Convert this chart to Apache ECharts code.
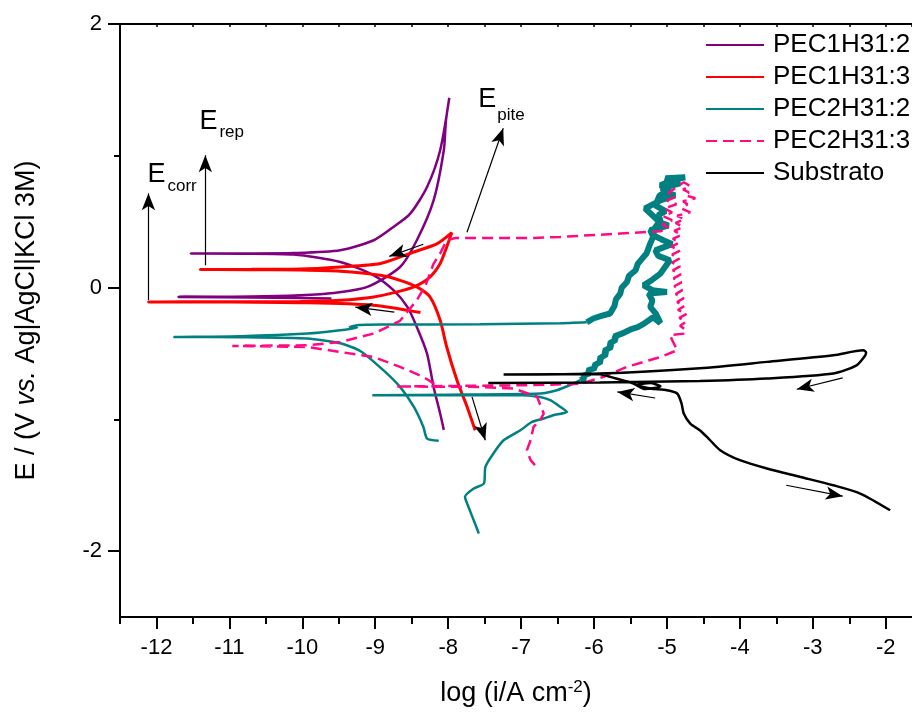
<!DOCTYPE html>
<html><head><meta charset="utf-8">
<script src="https://cdn.jsdelivr.net/npm/echarts@6/dist/echarts.min.js"></script>
<style>html,body{margin:0;padding:0;background:#fff}#c{width:912px;height:713px}</style>
</head><body><div id="c"></div>
<script>
// ---- tick values ----
const xMajorTicks = [-12,-11,-10,-9,-8,-7,-6,-5,-4,-3,-2];
const xMinorTicks = [-12.5,-11.5,-10.5,-9.5,-8.5,-7.5,-6.5,-5.5,-4.5,-3.5,-2.5];
const yMajorTicks = [-2,0,2];
const yMinorTicks = [-1,1];
const seriesNames = ['PEC1H31:2','PEC1H31:3','PEC2H31:2','PEC2H31:3','Substrato'];

// ---- data: [log i, E] ----
const pec1h31_2 = [[-8.06,-1.08],[-8.11,-0.956],[-8.20,-0.754],[-8.29,-0.501],[-8.43,-0.299],[-8.56,-0.147],[-8.75,-0.020],[-9.02,0.093],[-9.48,0.194],[-10.12,0.250],[-10.8,0.257],[-11.53,0.258],[-10.8,0.259],[-10.12,0.262],[-9.48,0.283],[-9.02,0.359],[-8.75,0.460],[-8.52,0.561],[-8.29,0.763],[-8.11,1.042],[-7.985,1.439],[-8.03,1.269],[-8.06,1.042],[-8.20,0.662],[-8.43,0.359],[-8.66,0.156],[-9.11,0.005],[-9.57,-0.041],[-10.03,-0.058],[-10.71,-0.068],[-11.70,-0.071],[-10.71,-0.075],[-10.03,-0.080],[-9.6,-0.083]];

const pec1h31_3 = [[-7.63,-1.083],[-7.74,-0.906],[-7.88,-0.703],[-8.02,-0.451],[-8.11,-0.248],[-8.25,-0.071],[-8.43,0.005],[-8.66,0.055],[-8.93,0.093],[-9.48,0.124],[-10.03,0.133],[-10.7,0.136],[-11.40,0.137],[-10.7,0.138],[-10.03,0.140],[-9.48,0.156],[-8.93,0.182],[-8.47,0.270],[-8.15,0.334],[-7.95,0.417],[-8.02,0.308],[-8.11,0.182],[-8.25,0.080],[-8.47,0.005],[-8.70,-0.033],[-9.02,-0.071],[-9.48,-0.096],[-10.03,-0.106],[-11.0,-0.108],[-12.11,-0.109],[-11.0,-0.110],[-10.03,-0.115],[-9.03,-0.134],[-8.38,-0.190]];

const pec2h31_2_cathodic = [[-7.58,-1.866],[-7.65,-1.766],[-7.74,-1.639],[-7.77,-1.589],[-7.65,-1.525],[-7.51,-1.487],[-7.49,-1.361],[-7.38,-1.259],[-7.24,-1.159],[-7.01,-1.083],[-6.85,-1.020],[-6.69,-0.994],[-6.56,-0.969],[-6.37,-0.944],[-6.46,-0.906],[-6.60,-0.855],[-6.74,-0.830],[-6.97,-0.817],[-7.97,-0.817],[-9.04,-0.817],[-7.97,-0.813],[-6.74,-0.804],[-6.51,-0.779],[-6.28,-0.728],[-6.19,-0.703]];

const pec2h31_2_pitting = [[-6.19,-0.703],[-6.12,-0.690],[-6.16,-0.672],[-6.06,-0.650],[-6.09,-0.630],[-5.98,-0.610],[-6.00,-0.590],[-5.90,-0.560],[-5.93,-0.540],[-5.83,-0.505],[-5.86,-0.480],[-5.76,-0.450],[-5.79,-0.425],[-5.70,-0.395],[-5.72,-0.370],[-5.62,-0.350],[-5.50,-0.318],[-5.40,-0.300],[-5.32,-0.276],[-5.19,-0.225],[-5.09,-0.270],[-5.15,-0.200],[-5.23,-0.147],[-5.20,-0.100],[-5.25,-0.046],[-5.00,-0.033],[-5.20,-0.020],[-5.32,0.017],[-5.20,0.060],[-5.09,0.106],[-4.96,0.207],[-5.12,0.240],[-5.16,0.282],[-4.93,0.330],[-5.05,0.359],[-5.20,0.400],[-5.23,0.435],[-4.98,0.470],[-5.10,0.496],[-5.20,0.549],[-5.30,0.600],[-5.22,0.624],[-5.09,0.662],[-4.89,0.700],[-5.00,0.720],[-5.07,0.753],[-4.82,0.790],[-4.95,0.805],[-5.02,0.829],[-4.75,0.837],[-4.90,0.820],[-5.09,0.776],[-4.96,0.740],[-5.10,0.700],[-5.16,0.624],[-5.02,0.580],[-5.12,0.549],[-5.09,0.511],[-5.17,0.450],[-5.19,0.384],[-5.24,0.320],[-5.28,0.258],[-5.34,0.220],[-5.40,0.180],[-5.43,0.131],[-5.52,0.090],[-5.55,0.040],[-5.62,0.000],[-5.64,-0.046],[-5.70,-0.090],[-5.72,-0.140],[-5.78,-0.197],[-5.90,-0.215],[-6.01,-0.235],[-6.10,-0.264]];

const pec2h31_2_reverse = [[-6.10,-0.264],[-6.46,-0.271],[-7.56,-0.279],[-8.93,-0.281],[-9.22,-0.285],[-9.35,-0.300],[-9.25,-0.305],[-9.48,-0.324],[-9.93,-0.349],[-10.85,-0.369],[-11.76,-0.375],[-10.85,-0.377],[-9.93,-0.387],[-9.48,-0.423],[-9.20,-0.483],[-8.89,-0.627],[-8.66,-0.754],[-8.47,-0.906],[-8.34,-1.058],[-8.29,-1.146],[-8.13,-1.162]];

const pec2h31_3 = [[-6.81,-1.348],[-6.87,-1.310],[-6.92,-1.234],[-6.87,-1.159],[-6.83,-1.058],[-6.74,-1.007],[-6.69,-0.956],[-6.78,-0.830],[-7.10,-0.766],[-7.56,-0.754],[-8.72,-0.751],[-7.56,-0.745],[-6.87,-0.741],[-6.19,-0.730],[-5.87,-0.678],[-5.55,-0.602],[-5.09,-0.527],[-4.86,-0.476],[-4.96,-0.362],[-4.75,-0.349],[-4.75,-0.320],[-4.82,-0.290],[-4.74,-0.260],[-4.83,-0.230],[-4.73,-0.200],[-4.85,-0.170],[-4.76,-0.140],[-4.86,-0.110],[-4.77,-0.080],[-4.88,-0.050],[-4.79,-0.020],[-4.90,0.010],[-4.80,0.040],[-4.91,0.070],[-4.81,0.100],[-4.92,0.130],[-4.82,0.160],[-4.93,0.190],[-4.83,0.220],[-4.93,0.250],[-4.82,0.280],[-4.94,0.310],[-4.83,0.340],[-4.92,0.370],[-4.80,0.400],[-4.90,0.430],[-4.78,0.460],[-4.88,0.490],[-4.76,0.520],[-4.86,0.545],[-4.68,0.571],[-4.80,0.600],[-4.72,0.632],[-4.78,0.655],[-4.61,0.678],[-4.75,0.700],[-4.70,0.723],[-4.78,0.745],[-4.68,0.769],[-4.77,0.799],[-4.87,0.760],[-4.98,0.720],[-4.88,0.690],[-5.00,0.660],[-4.87,0.632],[-5.04,0.600],[-4.93,0.571],[-5.05,0.540],[-4.93,0.511],[-5.07,0.480],[-4.98,0.455],[-5.09,0.427],[-5.64,0.410],[-6.46,0.384],[-6.83,0.376],[-7.90,0.376],[-8.02,0.359],[-8.11,0.258],[-8.20,0.182],[-8.31,0.017],[-8.43,-0.096],[-8.66,-0.252],[-9.02,-0.349],[-9.48,-0.413],[-9.93,-0.438],[-10.96,-0.443],[-9.93,-0.451],[-9.48,-0.489],[-9.02,-0.527],[-8.66,-0.602],[-8.34,-0.678],[-8.18,-0.734]];

const substrato = [[-1.94,-1.690],[-2.35,-1.563],[-2.72,-1.500],[-3.17,-1.437],[-3.63,-1.373],[-4.00,-1.310],[-4.27,-1.234],[-4.43,-1.146],[-4.55,-1.083],[-4.68,-1.032],[-4.77,-0.956],[-4.80,-0.880],[-4.86,-0.804],[-5.00,-0.779],[-5.23,-0.766],[-5.41,-0.740],[-5.23,-0.725],[-5.09,-0.750],[-5.30,-0.770],[-5.46,-0.728],[-5.78,-0.678],[-5.92,-0.658],[-7.24,-0.660],[-5.92,-0.652],[-4.55,-0.612],[-3.63,-0.564],[-2.72,-0.514],[-2.31,-0.476],[-2.27,-0.491],[-2.28,-0.514],[-2.40,-0.590],[-2.72,-0.652],[-3.63,-0.690],[-4.55,-0.709],[-5.46,-0.716],[-5.92,-0.721],[-7.45,-0.724]];

// ---- annotation arrows [start, end] in data units ----
const arrowSegments = [
  [[-12.11,-0.096],[-12.11,0.715]],
  [[-11.33,0.169],[-11.33,1.004]],
  [[-7.742,0.42],[-7.245,1.209]],
  [[-8.341,0.329],[-8.807,0.237]],
  [[-8.738,-0.187],[-9.273,-0.149]],
  [[-7.673,-0.830],[-7.491,-1.159]],
  [[-2.59,-0.686],[-3.22,-0.772]],
  [[-5.162,-0.838],[-5.68,-0.792]],
  [[-3.365,-1.50],[-2.59,-1.583]]
];
// annotation labels: [main, subscript, main anchor, sub anchor]
const annotLabels = [
  ['E','corr',[-12.123,0.856],[-11.849,0.769]],
  ['E','rep',[-11.411,1.262],[-11.137,1.178]],
  ['E','pite',[-7.587,1.429],[-7.327,1.307]]
];

const FONT = '"Liberation Sans", Arial, Helvetica, sans-serif';
const chart = echarts.init(document.getElementById('c'), null, {renderer:'canvas'});

function lineSeries(name, data, color, width, dash, smooth) {
  return {
    name, type:'line', data, symbol:'none', smooth: smooth,
    xAxisIndex:0, yAxisIndex:0,
    lineStyle:{color, width, type: dash || 'solid'},
    itemStyle:{color}, emphasis:{disabled:true}, silent:true, z:3
  };
}

const arrowLines = {
  type:'line', data:[], xAxisIndex:0, yAxisIndex:0, silent:true, z:5,
  markLine:{
    silent:true, animation:false,
    symbol:['none','arrow'],
    label:{show:false},
    lineStyle:{color:'#000', width:1.2, type:'solid'},
    emphasis:{disabled:true},
    data: arrowSegments.map(s => [
      {coord:s[0], symbol:'none'},
      {coord:s[1], symbol:'arrow', symbolSize:[10,17]}
    ])
  }
};

const option = {
  animation:false,
  textStyle:{fontFamily:FONT},
  grid:{left:120, right:0, top:24, bottom:96, containLabel:false},
  legend:{
    orient:'vertical', left:705, top:32, padding:0, itemGap:6,
    itemWidth:58, itemHeight:14,
    itemStyle:{opacity:0},
    textStyle:{fontSize:26, color:'#000', fontFamily:FONT, lineHeight:26, padding:[0,0,0,4]},
    data: seriesNames,
    selectedMode:false
  },
  xAxis:[
    {type:'value', min:-12.5, max:-1.64, position:'bottom',
     axisLine:{show:true, onZero:false, lineStyle:{color:'#000', width:2}},
     axisTick:{show:true, customValues:xMajorTicks, length:12, inside:false, lineStyle:{color:'#000', width:2}},
     axisLabel:{show:true, customValues:xMajorTicks, fontSize:22, color:'#000', margin:20, fontFamily:FONT,
       formatter: v => String(Math.round(v))},
     splitLine:{show:false},
     name:'log (i/A cm{sup|-2})', nameLocation:'middle', nameGap:62,
     nameTextStyle:{fontSize:27, color:'#000', fontFamily:FONT,
       rich:{sup:{fontSize:17, color:'#000', fontFamily:FONT, verticalAlign:'top', padding:[0,0,12,0]}}}
    },
    {type:'value', min:-12.5, max:-1.64, position:'bottom',
     axisLine:{show:false, onZero:false},
     axisTick:{show:true, customValues:xMinorTicks, length:7, lineStyle:{color:'#000', width:2}},
     axisLabel:{show:false}, splitLine:{show:false}},
    {type:'value', min:-12.5, max:-1.64, position:'top', interval:0.5,
     axisLine:{show:true, onZero:false, lineStyle:{color:'#000', width:2}},
     axisTick:{show:true, inside:true, length:3, lineStyle:{color:'#000', width:1.5}},
     axisLabel:{show:false}, splitLine:{show:false}}
  ],
  yAxis:[
    {type:'value', min:-2.5, max:2, position:'left',
     axisLine:{show:true, onZero:false, lineStyle:{color:'#000', width:2}},
     axisTick:{show:true, customValues:yMajorTicks, length:12, lineStyle:{color:'#000', width:2}},
     axisLabel:{show:true, customValues:yMajorTicks, fontSize:22, color:'#000', margin:18, fontFamily:FONT,
       formatter: v => String(Math.round(v))},
     splitLine:{show:false},
     name:'E / (V {it|vs.} Ag|AgCl|KCl 3M)', nameLocation:'middle', nameGap:80,
     nameTextStyle:{fontSize:27, color:'#000', fontFamily:FONT,
       rich:{it:{fontSize:27, fontStyle:'italic', color:'#000', fontFamily:FONT}}}
    },
    {type:'value', min:-2.5, max:2, position:'left',
     axisLine:{show:false, onZero:false},
     axisTick:{show:true, customValues:yMinorTicks, length:6, lineStyle:{color:'#000', width:2}},
     axisLabel:{show:false}, splitLine:{show:false}}
  ],
  series:[
    lineSeries('PEC1H31:2', pec1h31_2, '#800080', 2.5, null, 0.25),
    lineSeries('PEC1H31:3', pec1h31_3, '#ff0000', 3, null, 0.25),
    lineSeries('PEC2H31:2', pec2h31_2_cathodic, '#008080', 2.5, null, 0.2),
    lineSeries('PEC2H31:2', pec2h31_2_pitting, '#008080', 6, null, false),
    lineSeries('PEC2H31:2', pec2h31_2_reverse, '#008080', 2.5, null, 0.2),
    lineSeries('PEC2H31:3', pec2h31_3, '#ff0a84', 2.5, [11,6], false),
    lineSeries('Substrato', substrato, '#000000', 2.5, null, 0.25),
    arrowLines
  ]
};
chart.setOption(option);

const graphics = [];
annotLabels.forEach(a => {
  const p1 = chart.convertToPixel({xAxisIndex:0, yAxisIndex:0}, a[2]);
  const p2 = chart.convertToPixel({xAxisIndex:0, yAxisIndex:0}, a[3]);
  graphics.push({type:'text', x:p1[0], y:p1[1], silent:true, z:10,
    style:{text:a[0], fontSize:27, fontFamily:FONT, fill:'#000', textAlign:'left', textVerticalAlign:'middle'}});
  graphics.push({type:'text', x:p2[0], y:p2[1], silent:true, z:10,
    style:{text:a[1], fontSize:17, fontFamily:FONT, fill:'#000', textAlign:'left', textVerticalAlign:'middle'}});
});
chart.setOption({graphic:graphics});
</script>
</body></html>
